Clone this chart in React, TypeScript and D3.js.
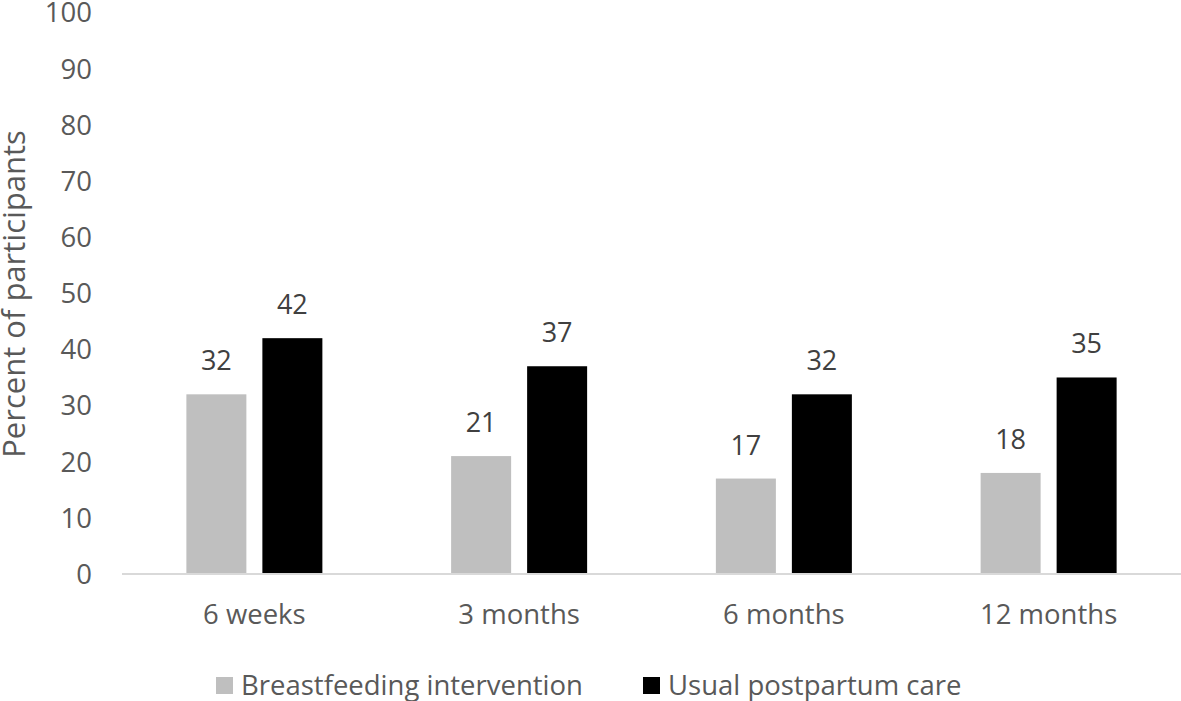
import React from "react";
import * as d3 from "d3";

const categories = ["6 weeks", "3 months", "6 months", "12 months"];
const seriesNames = ["Breastfeeding intervention", "Usual postpartum care"];
const breastfeeding = [32, 21, 17, 18];
const usualCare = [42, 37, 32, 35];
const yTicks = [0, 10, 20, 30, 40, 50, 60, 70, 80, 90, 100];
const colors = ["#bfbfbf", "#000000"];

const W = 1181;
const H = 701;
const FONT = "'Open Sans', 'Noto Sans', sans-serif";

export default function App() {
  const x = d3.scaleBand<string>().domain(categories).range([122, 1181]).paddingInner(0).paddingOuter(0);
  const y = d3.scaleLinear().domain([0, 100]).range([574, 12.5]);
  const barW = 60;
  const gap = 16;
  const series = [breastfeeding, usualCare];

  return (
    <div style={{ position: "absolute", left: 0, top: 0 }}>
      <svg width={W} height={H} style={{ display: "block", background: "#fff" }}>
        {yTicks.map((t) => (
          <text key={t} x={92} y={y(t)} dy="0.36em" textAnchor="end" fontFamily={FONT} fontSize={27.5} fill="#595959">
            {t}
          </text>
        ))}
        <text
          transform={`translate(25, 294) rotate(-90)`}
          textAnchor="middle"
          fontFamily={FONT}
          fontSize={31}
          fill="#595959"
        >
          Percent of participants
        </text>
        {categories.map((c, i) => {
          const cx = x(c)! + x.bandwidth() / 2;
          return (
            <g key={c}>
              {series.map((s, k) => {
                const bx = k === 0 ? cx - gap / 2 - barW : cx + gap / 2;
                return (
                  <g key={k}>
                    <rect x={bx} y={y(s[i])} width={barW} height={y(0) - y(s[i])} fill={colors[k]} />
                    <text
                      x={bx + barW / 2}
                      y={y(s[i]) - 24}
                      textAnchor="middle"
                      fontFamily={FONT}
                      fontSize={27}
                      fill="#404040"
                    >
                      {s[i]}
                    </text>
                  </g>
                );
              })}
              <text x={cx} y={624} textAnchor="middle" fontFamily={FONT} fontSize={27.5} fill="#595959">
                {c}
              </text>
            </g>
          );
        })}
        <line x1={122} x2={1181} y1={y(0)} y2={y(0)} stroke="#d9d9d9" strokeWidth={2} />
        {seriesNames.map((n, k) => {
          const sx = k === 0 ? 216 : 643;
          return (
            <g key={n}>
              <rect x={sx} y={677} width={17} height={17} fill={colors[k]} />
              <text x={sx + 25} y={695} fontFamily={FONT} fontSize={27.5} fill="#595959">
                {n}
              </text>
            </g>
          );
        })}
      </svg>
    </div>
  );
}
